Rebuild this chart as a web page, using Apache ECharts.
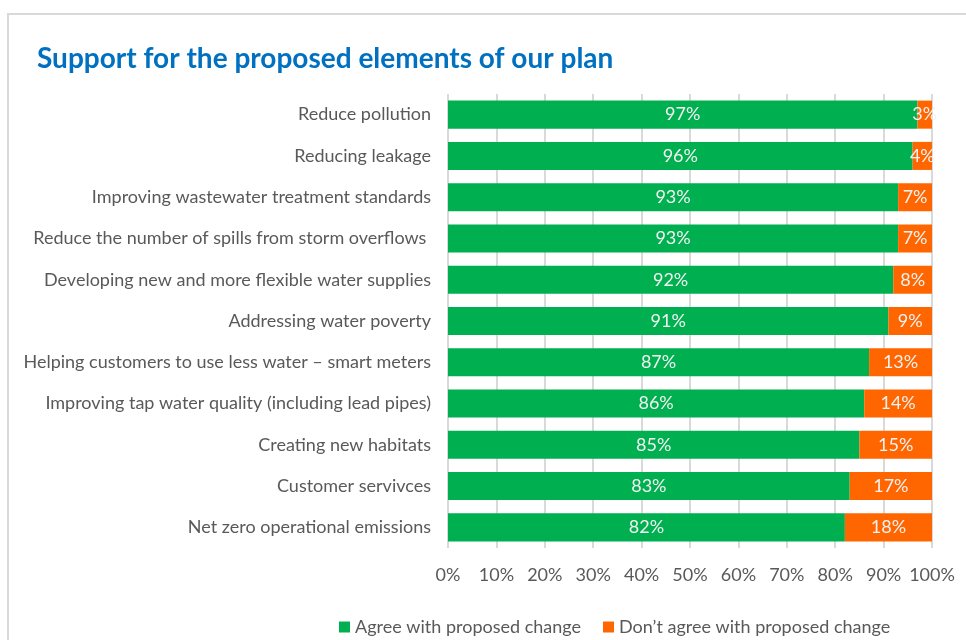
<!DOCTYPE html>
<html>
<head>
<meta charset="utf-8">
<script src="https://cdn.jsdelivr.net/npm/echarts@6/dist/echarts.min.js"></script>
<style>
  html, body { margin: 0; padding: 0; background: #fff; }
  #frame { position: absolute; left: 7px; top: 13px; width: 1000px; height: 700px; border: 2px solid #d9d9d9; box-sizing: border-box; }
  #chart { position: absolute; left: 0; top: 0; width: 966px; height: 640px; }
</style>
</head>
<body>
<div id="frame"></div>
<div id="chart"></div>
<script>
// Plan elements, listed top to bottom
const categories = [
  'Reduce pollution',
  'Reducing leakage',
  'Improving wastewater treatment standards',
  'Reduce the number of spills from storm overflows ',
  'Developing new and more flexible water supplies',
  'Addressing water poverty',
  'Helping customers to use less water \u2013 smart meters',
  'Improving tap water quality (including lead pipes)',
  'Creating new habitats',
  'Customer servivces',
  'Net zero operational emissions'
];
const agree    = [97, 96, 93, 93, 92, 91, 87, 86, 85, 83, 82];
const disagree = [3, 4, 7, 7, 8, 9, 13, 14, 15, 17, 18];
const seriesNames = ['Agree with proposed change', 'Don\u2019t agree with proposed change'];

const FONT = 'Lato, "Open Sans", sans-serif';
const chart = echarts.init(document.getElementById('chart'), null, { renderer: 'canvas' });

const labelStyle = {
  show: true,
  position: 'inside',
  formatter: p => p.value + '%',
  color: '#f2f2f2',
  fontSize: 18,
  fontFamily: FONT
};

chart.setOption({
  animation: false,
  title: {
    text: 'Support for the proposed elements of our plan',
    left: 32, top: 40,
    textStyle: { color: '#0070C0', fontSize: 28, fontWeight: 'bold', fontFamily: FONT }
  },
  legend: {
    bottom: -1, left: 334, itemGap: 22,
    itemWidth: 11, itemHeight: 11, icon: 'rect',
    textStyle: { color: '#595959', fontSize: 18, fontFamily: FONT },
    data: seriesNames
  },
  grid: { left: 448, right: 34, top: 94, bottom: 92 },
  xAxis: {
    type: 'value', min: 0, max: 100, interval: 10,
    axisLabel: { formatter: '{value}%', color: '#595959', fontSize: 18, fontFamily: FONT, margin: 18 },
    splitLine: { show: true, lineStyle: { color: '#d9d9d9', width: 2 } },
    axisLine: { show: false }, axisTick: { show: false }
  },
  yAxis: {
    type: 'category', inverse: true, data: categories,
    axisLabel: { color: '#595959', fontSize: 18, fontFamily: FONT, margin: 17 },
    axisLine: { show: false }, axisTick: { show: false }
  },
  series: [
    { name: seriesNames[0], type: 'bar', stack: 'total', data: agree, barWidth: '68%',
      itemStyle: { color: '#00B050' }, label: labelStyle },
    { name: seriesNames[1], type: 'bar', stack: 'total', data: disagree, barWidth: '68%',
      itemStyle: { color: '#FF6600' }, label: labelStyle }
  ]
});
</script>
</body>
</html>
